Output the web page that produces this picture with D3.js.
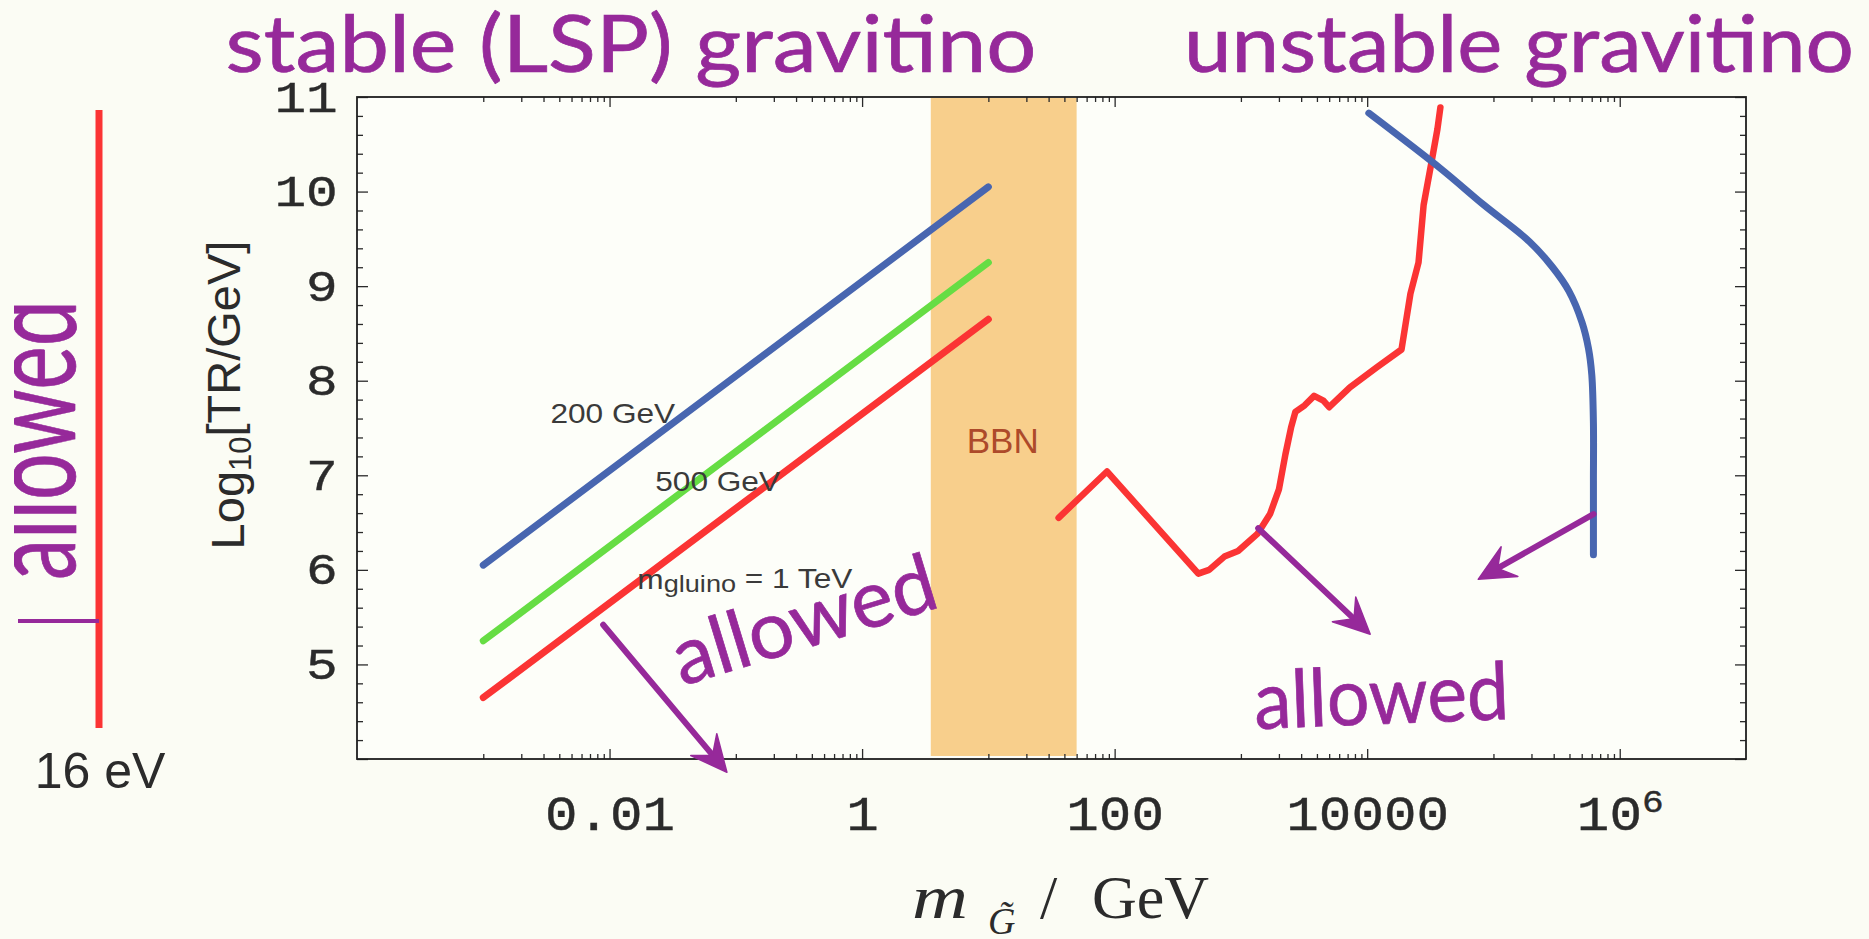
<!DOCTYPE html>
<html>
<head>
<meta charset="utf-8">
<script src="https://cdn.jsdelivr.net/npm/d3@7"></script>
<style>
  html, body { margin: 0; padding: 0; background: #fbfcf4; }
  svg { display: block; }
</style>
</head>
<body>
<svg id="chart" width="1869" height="939"></svg>
<script>
// ---------- data ----------
// x axis: gravitino mass in GeV (log scale); y axis: log10 of the reheating temperature
const xMajorTicks = [1e-2, 1, 1e2, 1e4, 1e6];
const xMajorLabels = ["0.01", "1", "100", "10000", "10^6"];
const xMinorDecades = [1e-3, 1e-1, 1e1, 1e3, 1e5];
const xMinorMultipliers = [1, 2, 3, 4, 5, 6, 7, 8, 9];
const yMajorTicks = [4, 5, 6, 7, 8, 9, 10, 11];
const yLabelTicks = [5, 6, 7, 8, 9, 10, 11];
const yMinorStep = 0.2;

// stable (LSP) gravitino bounds for three gluino masses
const stableMass = [1e-3, 10];
const stable200 = [6.05, 10.05];
const stable500 = [5.25, 9.25];
const stable1000 = [4.65, 8.65];
const stableNames = ["200 GeV", "500 GeV", "1 TeV"];

// BBN excluded window (GeV)
const bbnRange = [3.5, 50];

// unstable gravitino: BBN bound (red)
const unstableRedMass = [36, 87, 460, 560, 740, 950, 1350, 1700, 2000, 2250, 2500, 2700,
  3200, 3800, 4500, 5000, 7300, 11900, 18700, 22000, 25500, 28000, 32500, 36000, 38000];
const unstableRedLogTR = [6.55, 7.04, 5.96, 6.00, 6.14, 6.20, 6.38, 6.59, 6.85, 7.22, 7.51, 7.67,
  7.74, 7.84, 7.79, 7.72, 7.93, 8.14, 8.33, 8.92, 9.25, 9.86, 10.33, 10.66, 10.89];

// unstable gravitino: second bound (blue)
const unstableBlueMass = [10300, 38400, 83600, 193000, 294000, 395000, 502000, 566000,
  601000, 619000, 619000, 619000];
const unstableBlueLogTR = [10.83, 10.24, 9.86, 9.47, 9.20, 8.95, 8.62, 8.34, 8.06, 7.55, 6.94, 6.16];

// "allowed" arrows: start / end in (GeV, log10 TR)
const arrowStarts = [[0.0089, 5.42], [1370, 6.44], [620000, 6.59]];
const arrowEnds = [[0.085, 3.86], [10570, 5.32], [75700, 5.90]];

// ---------- layout ----------
const svg = d3.select("#chart");
const plot = { left: 357, right: 1746, top: 97, bottom: 759 };
const x = d3.scaleLog().domain([1e-4, 1e7]).range([plot.left, plot.right]);
const y = d3.scaleLinear().domain([4, 11]).range([plot.bottom, plot.top]);

const purple = "#96299a";
const handFont = "'Comic Sans MS', Lato, 'Open Sans', sans-serif";
const monoFont = "'Liberation Mono', 'DejaVu Sans Mono', monospace";
const sansFont = "'Liberation Sans', Arial, sans-serif";
const serifFont = "'Liberation Serif', 'Times New Roman', serif";

svg.append("rect").attr("width", 1869).attr("height", 939).attr("fill", "#fbfcf4");
svg.append("rect")
  .attr("x", plot.left).attr("y", plot.top)
  .attr("width", plot.right - plot.left).attr("height", plot.bottom - plot.top)
  .attr("fill", "#fdfef9");

// BBN band
svg.append("rect")
  .attr("x", x(bbnRange[0])).attr("y", plot.top + 1)
  .attr("width", x(bbnRange[1]) - x(bbnRange[0]))
  .attr("height", plot.bottom - plot.top - 4)
  .attr("fill", "#f8cf8c");

svg.append("text")
  .attr("x", x(13)).attr("y", y(7.24))
  .attr("text-anchor", "middle")
  .attr("font-family", sansFont).attr("font-size", 35)
  .attr("fill", "#ad4a2a")
  .text("BBN");

// ---------- axes ----------
const xMinorTicks = [];
xMinorDecades.forEach(d => xMinorMultipliers.forEach(m => xMinorTicks.push(d * m)));
const yMinorTicks = d3.range(4, 11.001, yMinorStep).filter(v => Math.abs(v - Math.round(v)) > 1e-6);

function styleAxis(g) {
  g.select(".domain").remove();
  g.selectAll(".tick line").attr("stroke", "#2a2a2a").attr("stroke-width", 1.3);
}
function styleLabels(sel, size, sx) {
  sel.attr("font-family", monoFont).attr("font-size", size).attr("fill", "#2b2b2b")
    .attr("stroke", "#2b2b2b").attr("stroke-width", 0.4)
    .attr("transform", `scale(${sx},1)`);
}

// bottom
svg.append("g").attr("transform", `translate(0,${plot.bottom})`)
  .call(d3.axisBottom(x).tickValues(xMinorTicks).tickSizeInner(-5).tickSizeOuter(0).tickFormat(""))
  .call(styleAxis);
const xAxisG = svg.append("g").attr("transform", `translate(0,${plot.bottom})`)
  .call(d3.axisBottom(x).tickValues(xMajorTicks).tickSizeInner(-10).tickSizeOuter(0).tickPadding(37)
    .tickFormat((d, i) => xMajorLabels[i]))
  .call(styleAxis);
xAxisG.selectAll(".tick text")
  .call(styleLabels, 48, 1.13)
  .each(function (d, i) {
    const label = xMajorLabels[i];
    if (label.includes("^")) {
      const [base, exp] = label.split("^");
      const t = d3.select(this).text(null);
      t.append("tspan").text(base);
      t.append("tspan").attr("dy", "-0.55em").attr("font-size", 32).text(exp);
    }
  });

// top
svg.append("g").attr("transform", `translate(0,${plot.top})`)
  .call(d3.axisTop(x).tickValues(xMinorTicks).tickSizeInner(-5).tickSizeOuter(0).tickFormat(""))
  .call(styleAxis);
svg.append("g").attr("transform", `translate(0,${plot.top})`)
  .call(d3.axisTop(x).tickValues(xMajorTicks).tickSizeInner(-10).tickSizeOuter(0).tickFormat(""))
  .call(styleAxis);

// left
svg.append("g").attr("transform", `translate(${plot.left},0)`)
  .call(d3.axisLeft(y).tickValues(yMinorTicks).tickSizeInner(-6).tickSizeOuter(0).tickFormat(""))
  .call(styleAxis);
const yAxisG = svg.append("g").attr("transform", `translate(${plot.left},0)`)
  .call(d3.axisLeft(y).tickValues(yMajorTicks).tickSizeInner(-11).tickSizeOuter(0).tickPadding(16)
    .tickFormat(d => yLabelTicks.includes(d) ? String(d) : ""))
  .call(styleAxis);
yAxisG.selectAll(".tick text").call(styleLabels, 44, 1.2);

// right
svg.append("g").attr("transform", `translate(${plot.right},0)`)
  .call(d3.axisRight(y).tickValues(yMinorTicks).tickSizeInner(-6).tickSizeOuter(0).tickFormat(""))
  .call(styleAxis);
svg.append("g").attr("transform", `translate(${plot.right},0)`)
  .call(d3.axisRight(y).tickValues(yMajorTicks).tickSizeInner(-11).tickSizeOuter(0).tickFormat(""))
  .call(styleAxis);

// frame
svg.append("rect")
  .attr("x", plot.left).attr("y", plot.top)
  .attr("width", plot.right - plot.left).attr("height", plot.bottom - plot.top)
  .attr("fill", "none").attr("stroke", "#1e1e1e").attr("stroke-width", 1.8);

// axis titles
const yTitle = svg.append("text")
  .attr("transform", `translate(244,395) rotate(-90)`)
  .attr("text-anchor", "middle")
  .attr("font-family", sansFont).attr("font-size", 47).attr("fill", "#2b2b2b");
yTitle.append("tspan").text("Log");
yTitle.append("tspan").attr("font-size", 31).attr("dy", "0.22em").text("10");
yTitle.append("tspan").attr("dy", "-0.22em").text("[TR/GeV]");

const xTitle = svg.append("g").attr("fill", "#2b2b2b").attr("font-family", serifFont);
xTitle.append("text")
  .attr("transform", "translate(912,918) scale(1.25,1)")
  .attr("font-size", 62).attr("font-style", "italic").text("m");
xTitle.append("text")
  .attr("x", 988).attr("y", 934)
  .attr("font-size", 38).attr("font-style", "italic").text("G\u0303");
xTitle.append("text")
  .attr("x", 1040).attr("y", 918)
  .attr("font-size", 62).text("/");
xTitle.append("text")
  .attr("x", 1092).attr("y", 918)
  .attr("font-size", 62).text("GeV");

// ---------- curves ----------
const line = d3.line().x(d => x(d[0])).y(d => y(d[1]));

const stableSeries = [
  { values: stable200, color: "#4866b0" },
  { values: stable500, color: "#66dd44" },
  { values: stable1000, color: "#fb3434" }
];
stableSeries.forEach(s => {
  svg.append("path")
    .datum(stableMass.map((m, i) => [m, s.values[i]]))
    .attr("d", line)
    .attr("fill", "none").attr("stroke", s.color)
    .attr("stroke-width", 7).attr("stroke-linecap", "round");
});

svg.append("path")
  .datum(unstableRedMass.map((m, i) => [m, unstableRedLogTR[i]]))
  .attr("d", line)
  .attr("fill", "none").attr("stroke", "#fb3434")
  .attr("stroke-width", 6.5).attr("stroke-linecap", "round").attr("stroke-linejoin", "round");

svg.append("path")
  .datum(unstableBlueMass.map((m, i) => [m, unstableBlueLogTR[i]]))
  .attr("d", d3.line().curve(d3.curveCatmullRom).x(d => x(d[0])).y(d => y(d[1])))
  .attr("fill", "none").attr("stroke", "#4866b0")
  .attr("stroke-width", 7).attr("stroke-linecap", "round");

// curve labels
function stretched(px, py, sx, anchor) {
  return svg.append("text")
    .attr("transform", `translate(${px},${py}) scale(${sx},1)`)
    .attr("text-anchor", anchor || "start");
}
stretched(x(0.0034), y(7.55), 1.13)
  .attr("font-family", sansFont).attr("font-size", 28).attr("fill", "#3a3a3a")
  .text(stableNames[0]);
stretched(x(0.023), y(6.83), 1.13)
  .attr("font-family", sansFont).attr("font-size", 28).attr("fill", "#3a3a3a")
  .text(stableNames[1]);
const gl = stretched(x(0.0166), y(5.80), 1.13)
  .attr("font-family", sansFont).attr("font-size", 28).attr("fill", "#3a3a3a");
gl.append("tspan").text("m");
gl.append("tspan").attr("font-size", 24).attr("dy", "0.12em").text("gluino");
gl.append("tspan").attr("dy", "-0.12em").text(" = " + stableNames[2]);

// ---------- annotations ----------
function arrow(p0, p1) {
  const x0 = x(p0[0]), y0 = y(p0[1]), x1 = x(p1[0]), y1 = y(p1[1]);
  const dx = x1 - x0, dy = y1 - y0, len = Math.hypot(dx, dy);
  const ux = dx / len, uy = dy / len, px = -uy, py = ux;
  const L = 36, w = 17;
  svg.append("line")
    .attr("x1", x0).attr("y1", y0)
    .attr("x2", x1 - ux * L * 0.6).attr("y2", y1 - uy * L * 0.6)
    .attr("stroke", purple).attr("stroke-width", 6).attr("stroke-linecap", "round");
  const head = [
    [x1, y1],
    [x1 - ux * L + px * w, y1 - uy * L + py * w],
    [x1 - ux * L * 0.62, y1 - uy * L * 0.62],
    [x1 - ux * L - px * w, y1 - uy * L - py * w]
  ];
  svg.append("path").attr("d", "M" + head.join("L") + "Z").attr("fill", purple)
    .attr("stroke", purple).attr("stroke-width", 1.5).attr("stroke-linejoin", "round");
}
arrowStarts.forEach((s, i) => arrow(s, arrowEnds[i]));

function handText(sel) {
  sel.attr("font-family", handFont).attr("fill", purple)
    .attr("stroke", purple).attr("stroke-width", 0.7)
    .attr("lengthAdjust", "spacingAndGlyphs");
}

svg.append("text")
  .attr("transform", `translate(${x(0.4)},${y(5.19)}) rotate(-17)`)
  .attr("text-anchor", "middle").attr("font-size", 80)
  .attr("textLength", 272)
  .call(handText)
  .text("allowed");

svg.append("text")
  .attr("transform", `translate(${x(13200)},${y(4.37)}) rotate(-2.2)`)
  .attr("text-anchor", "middle").attr("font-size", 80)
  .attr("textLength", 255)
  .call(handText)
  .text("allowed");

// titles
svg.append("text")
  .attr("x", 631).attr("y", 72).attr("text-anchor", "middle").attr("font-size", 80)
  .attr("textLength", 811)
  .call(handText)
  .text("stable (LSP) gravitino");
svg.append("text")
  .attr("x", 1519).attr("y", 72).attr("text-anchor", "middle").attr("font-size", 80)
  .attr("textLength", 670)
  .call(handText)
  .text("unstable gravitino");

// hot dark matter limit on the far left
svg.append("line")
  .attr("x1", 99).attr("x2", 99).attr("y1", 110).attr("y2", 728)
  .attr("stroke", "#fb3434").attr("stroke-width", 7);
svg.append("line")
  .attr("x1", 18).attr("x2", 99).attr("y1", 621).attr("y2", 621)
  .attr("stroke", purple).attr("stroke-width", 4);

// the rotated word runs off the left margin, so clip it there
svg.append("clipPath").attr("id", "leftClip")
  .append("rect").attr("x", 14).attr("y", 0).attr("width", 200).attr("height", 939);
svg.append("g").attr("clip-path", "url(#leftClip)")
  .append("text")
  .attr("transform", "translate(75,440) rotate(-90)")
  .attr("text-anchor", "middle").attr("font-size", 120)
  .attr("textLength", 280)
  .call(handText)
  .text("allowed");

svg.append("text")
  .attr("x", 100).attr("y", 788).attr("text-anchor", "middle")
  .attr("font-family", sansFont).attr("font-size", 50).attr("fill", "#2b2b2b")
  .text("16 eV");
</script>
</body>
</html>
